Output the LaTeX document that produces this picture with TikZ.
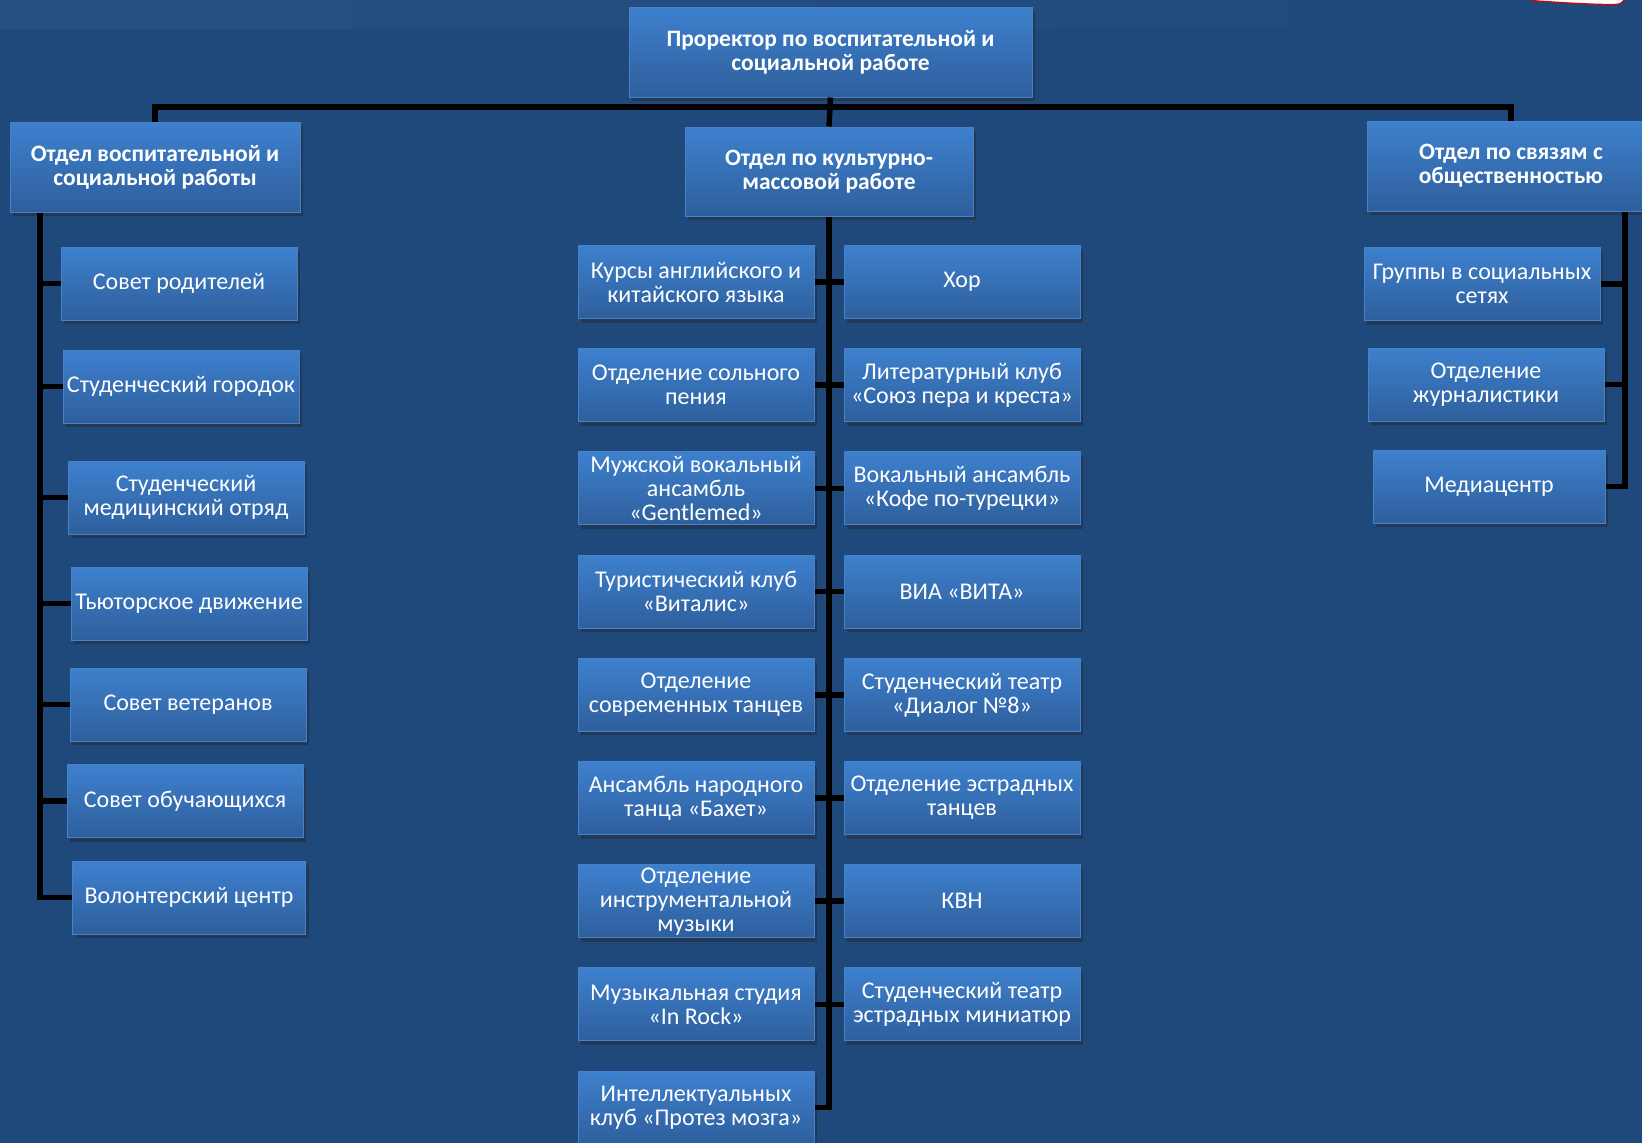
\documentclass[tikz,border=0pt]{standalone}
\usepackage{fontspec}
\setmainfont{Carlito}
\usetikzlibrary{shadows}
\definecolor{bgblue}{HTML}{1F487B}
\definecolor{bandL}{HTML}{264F82}
\definecolor{bandM}{HTML}{46689A}
\definecolor{boxtop}{HTML}{3E80CE}
\definecolor{boxbot}{HTML}{2E5F9C}
\definecolor{boxedge}{HTML}{4682CC}
\tikzset{
  box/.style={draw=boxedge, line width=1pt, top color=boxtop, bottom color=boxbot,
    minimum width=236pt, minimum height=73pt, inner sep=0pt, align=center, text=white,
    font=\fontsize{24}{24}\selectfont,
    drop shadow={shadow xshift=3pt, shadow yshift=-4pt, opacity=0.45, fill=black!85}},
  head/.style={box, font=\bfseries\fontsize{23.5}{24}\selectfont, minimum height=90pt},
  conn/.style={line width=5.5pt, black, line join=miter},
}
\begin{document}
\begin{tikzpicture}[x=1pt,y=-1pt]
\useasboundingbox (0,0) rectangle (1642,1143);
\clip (0,0) rectangle (1642,1143);
\fill[bgblue] (0,0) rectangle (1642,1143);
\shade[left color=bandL, middle color=bandM, right color=bgblue] (0,0) rectangle (1642,28);
\draw[red!85!black, fill=white, line width=1.2pt] (1531,-3) -- (1532,0.5) .. controls (1565,3) and (1595,4.5) .. (1614,4.5) .. controls (1621,4.5) and (1624,2) .. (1625,-3);

% top level
\node[head, minimum width=403pt] (top) at (830.5,52) {Проректор по воспитательной и\\социальной работе};
\node[head, minimum width=290pt] (L0) at (155,167) {Отдел воспитательной и\\социальной работы};
\node[head, minimum width=288pt, minimum height=89pt] (M0) at (829,171.5) {Отдел по культурно-\\массовой работе};
\node[head, minimum width=288pt] (R0) at (1511,166) {Отдел по связям с\\общественностью};

% left column
\node[box] (L1) at (179,283.5) {Совет родителей};
\node[box] (L2) at (181,386.5) {Студенческий городок};
\node[box] (L3) at (186,497.5) {Студенческий\\медицинский отряд};
\node[box] (L4) at (189,603.5) {Тьюторское движение};
\node[box] (L5) at (188,704.5) {Совет ветеранов};
\node[box] (L6) at (185,801) {Совет обучающихся};
\node[box, minimum width=233pt] (L7) at (189,897.5) {Волонтерский центр};

% middle columns
\node[box] (A1) at (696,282) {Курсы английского и\\китайского языка};
\node[box] (A2) at (696,385.2) {Отделение сольного\\пения};
\node[box] (A3) at (696,488.4) {Мужской вокальный\\ансамбль\\«Gentlemed»};
\node[box] (A4) at (696,591.6) {Туристический клуб\\«Виталис»};
\node[box] (A5) at (696,694.8) {Отделение\\современных танцев};
\node[box] (A6) at (696,798) {Ансамбль народного\\танца «Бахет»};
\node[box] (A7) at (696,901.2) {Отделение\\инструментальной\\музыки};
\node[box] (A8) at (696,1004.4) {Музыкальная студия\\«In Rock»};
\node[box] (A9) at (696,1107.6) {Интеллектуальных\\клуб «Протез мозга»};

\node[box] (B1) at (962,282) {Хор};
\node[box] (B2) at (962,385.2) {Литературный клуб\\«Союз пера и креста»};
\node[box] (B3) at (962,488.4) {Вокальный ансамбль\\«Кофе по-турецки»};
\node[box] (B4) at (962,591.6) {ВИА «ВИТА»};
\node[box] (B5) at (962,694.8) {Студенческий театр\\«Диалог №8»};
\node[box] (B6) at (962,798) {Отделение эстрадных\\танцев};
\node[box] (B7) at (962,901.2) {КВН};
\node[box] (B8) at (962,1004.4) {Студенческий театр\\эстрадных миниатюр};

% right column
\node[box] (R1) at (1482,284) {Группы в социальных\\сетях};
\node[box] (R2) at (1486,384.5) {Отделение\\журналистики};
\node[box, minimum width=232pt] (R3) at (1489,486.5) {Медиацентр};

% connectors
\coordinate (hy) at (0,107);
\coordinate (lx) at (40,0);
\coordinate (mx) at (829,0);
\coordinate (rx) at (1625,0);
\draw[conn] (top.south) -- (M0.north);
\draw[conn] (L0.north) -- (L0.north |- hy) -- (R0.north |- hy) -- (R0.north);
\draw[conn] (L0.south -| lx) -- (L7.west -| lx) -- (L7.west);
\foreach \n in {L1,L2,L3,L4,L5,L6} \draw[conn] (\n.west -| lx) -- (\n.west);
\draw[conn] (M0.south -| mx) -- (A9.east -| mx) -- (A9.east);
\foreach \i in {1,...,8} \draw[conn] (A\i.east) -- (B\i.west);
\draw[conn] (R0.south -| rx) -- (R3.east -| rx) -- (R3.east);
\foreach \n in {R1,R2} \draw[conn] (\n.east -| rx) -- (\n.east);
\end{tikzpicture}
\end{document}
